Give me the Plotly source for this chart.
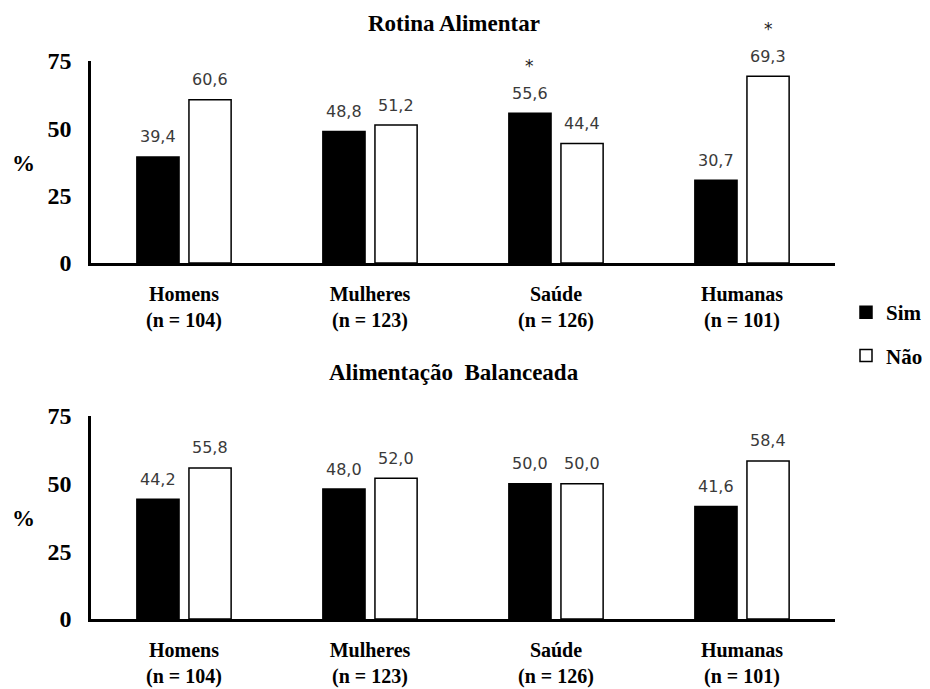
import plotly.graph_objects as go

categories = ["Homens<br>(n = 104)", "Mulheres<br>(n = 123)", "Saúde<br>(n = 126)", "Humanas<br>(n = 101)"]
series_names = ["Sim", "Não"]
rotina_sim = [39.4, 48.8, 55.6, 30.7]
rotina_nao = [60.6, 51.2, 44.4, 69.3]
balanceada_sim = [44.2, 48.0, 50.0, 41.6]
balanceada_nao = [55.8, 52.0, 50.0, 58.4]
rotina_star = [[False, False, True, False], [False, False, False, True]]
balanceada_star = [[False, False, False, False], [False, False, False, False]]
y_ticks = [0, 25, 50, 75]
titles = ["Rotina Alimentar", "Alimentação\u00a0 Balanceada"]

# the page body has an 8px margin; size the figure so it fits the 930x689 window
OFF = 8
W, H = 930 - OFF, 689 - OFF
ML = 91 - OFF
MR = W - (835 - OFF)
SERIF = "Liberation Serif"
SANS = "DejaVu Sans"

def px2y(p):
    return 1 - (p - OFF) / H

def px2x(p):
    return (p - OFF - ML) / (W - ML - MR)

fills = ["black", "white"]
fig = go.Figure()

panels = [
    ("x", "y", [rotina_sim, rotina_nao], rotina_star, True),
    ("x2", "y2", [balanceada_sim, balanceada_nao], balanceada_star, False),
]
annotations = []
offsets = [-0.14, 0.14]
for xa, ya, vals, stars, show in panels:
    for s, name in enumerate(series_names):
        fig.add_trace(go.Bar(
            x=categories, y=vals[s], name=name, xaxis=xa, yaxis=ya,
            marker=dict(color=fills[s], line=dict(color="black", width=1.5)),
            showlegend=show, legendgroup=name,
        ))
        for i, v in enumerate(vals[s]):
            annotations.append(dict(
                x=i + offsets[s], y=v, xref=xa, yref=ya,
                text=f"{v:.1f}".replace(".", ","), showarrow=False,
                yshift=20, font=dict(family=SANS, size=16, color="#3a3a3a"),
            ))
            if stars[s][i]:
                annotations.append(dict(
                    x=i + offsets[s], y=v, xref=xa, yref=ya,
                    text="*", showarrow=False, yshift=47,
                    font=dict(family=SANS, size=17, color="#222"),
                ))

# titles and % labels
annotations.append(dict(x=px2x(454), y=px2y(24), xref="paper", yref="paper", text=titles[0],
                        xanchor="center", yanchor="middle", showarrow=False,
                        font=dict(family=SERIF, size=23, color="black", weight="bold")))
annotations.append(dict(x=px2x(454), y=px2y(372), xref="paper", yref="paper", text=titles[1],
                        xanchor="center", yanchor="middle", showarrow=False,
                        font=dict(family=SERIF, size=23, color="black", weight="bold")))
for yy in (163, 518):
    annotations.append(dict(x=px2x(23), y=px2y(yy), xref="paper", yref="paper", text="%",
                            xanchor="center", yanchor="middle", showarrow=False,
                            font=dict(family=SERIF, size=23, color="black", weight="bold")))

xax = dict(type="category", range=[-0.5, 3.5], showline=True, linecolor="black", linewidth=2.5,
           showgrid=False, ticks="", ticklabelstandoff=11,
           tickfont=dict(family=SERIF, size=20, color="black", weight="bold"), zeroline=False)
yax = dict(range=[0, 75], tickvals=y_ticks, showline=True, linecolor="black", linewidth=2.5,
           showgrid=False, ticks="", ticklabelstandoff=12, zeroline=False,
           tickfont=dict(family=SERIF, size=24, color="black", weight="bold"))

fig.update_layout(
    width=W, height=H, margin=dict(l=ML, r=MR, t=0, b=0, autoexpand=False),
    paper_bgcolor="white", plot_bgcolor="white",
    barmode="group", bargap=0.44, bargroupgap=0.19,
    xaxis=dict(xax, domain=[0, 1], anchor="y"),
    yaxis=dict(yax, domain=[px2y(263), px2y(61)], anchor="x"),
    xaxis2=dict(xax, domain=[0, 1], anchor="y2"),
    yaxis2=dict(yax, domain=[px2y(619), px2y(416)], anchor="x2"),
    legend=dict(x=px2x(846), xanchor="left", y=px2y(292), yanchor="top",
                yref="paper", font=dict(family=SERIF, size=21, color="black", weight="bold"),
                tracegroupgap=13, traceorder="grouped", bgcolor="rgba(0,0,0,0)"),
    annotations=annotations,
)

fig.write_html("out.html")
